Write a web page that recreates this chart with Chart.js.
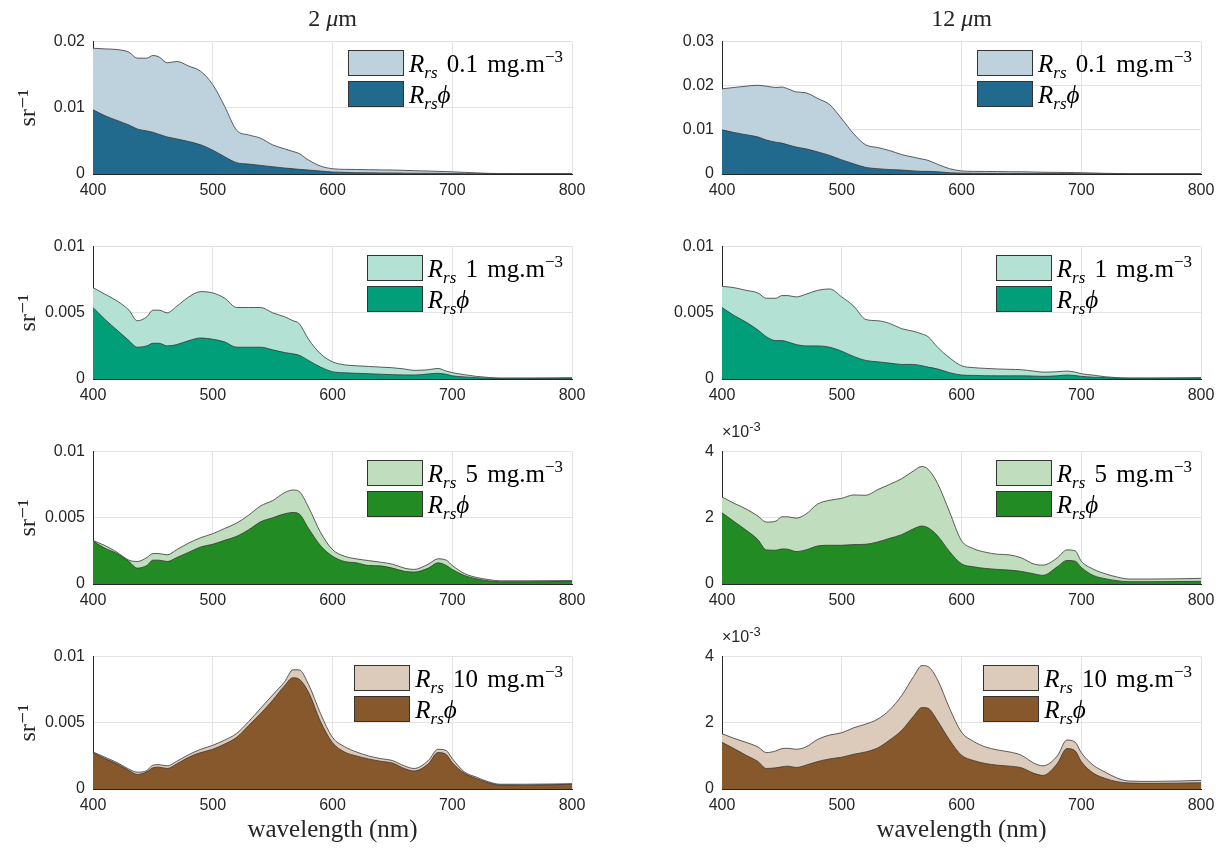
<!DOCTYPE html>
<html>
<head>
<meta charset="utf-8">
<script src="https://cdn.jsdelivr.net/npm/chart.js@4.4.1/dist/chart.umd.min.js"></script>
<style>
  body { margin: 0; background: #fff; }
  #fig { position: relative; width: 1227px; height: 848px; overflow: hidden; background: #fff; }
  #fig canvas { position: absolute; }
  .title { position: absolute; font-family: 'Liberation Serif', 'DejaVu Serif', serif; font-size: 24px; line-height: 28px; color: #262626; transform: translateX(-50%); white-space: nowrap; }
  .legend { position: absolute; font-family: 'Liberation Serif', 'DejaVu Serif', serif; font-size: 25px; color: #000; white-space: nowrap; }
  .legend .row { display: flex; align-items: center; height: 25px; margin-bottom: 6px; }
  .legend .sw { width: 54px; height: 24px; border: 1px solid #333; margin-right: 5px; flex: none; }
  .legend .txt { line-height: 25px; word-spacing: 3px; }
  .legend sub { font-size: 17px; vertical-align: -6px; line-height: 0; }
  .legend sup { font-size: 17px; vertical-align: 10px; line-height: 0; }
  .mult { position: absolute; font-family: 'Liberation Sans', Arial, sans-serif; font-size: 16px; line-height: 16px; color: #262626; }
  .mult sup { font-size: 13px; vertical-align: 6px; line-height: 0; }
</style>
</head>
<body>
<div id="fig"></div>
<script>
// wavelength grid (nm)
const wavelength = [400, 410, 420, 430, 437, 445, 450, 455, 462, 470, 480, 490, 500, 510, 520, 530, 540, 550, 560, 567,
  572, 580, 590, 600, 610, 620, 630, 640, 650, 660, 668, 680, 688, 695, 700, 710, 720, 730, 740, 760, 800];

// 2 um particles (sr^-1)
const rrs2um_01 = [0.0190, 0.0189, 0.0188, 0.0184, 0.0175, 0.0175, 0.0179, 0.0177, 0.0168, 0.0170, 0.0163, 0.0155, 0.0135, 0.0102, 0.0066, 0.0059, 0.0054, 0.0044, 0.0038, 0.0034,
  0.0031, 0.0021, 0.0012, 0.0008, 0.0007, 0.00068, 0.00065, 0.00062, 0.0006, 0.00055, 0.0005, 0.00045, 0.0004, 0.00036, 0.00033, 0.00025, 0.00018, 0.0001, 0.00006, 0.00004, 0.00004];
const rrsPhi2um_01 = [0.0097, 0.0088, 0.0081, 0.0074, 0.0068, 0.0065, 0.0063, 0.0060, 0.0056, 0.0053, 0.0049, 0.0044, 0.0036, 0.0026, 0.0017, 0.0015, 0.0013, 0.0011, 0.0009, 0.0008,
  0.0007, 0.0006, 0.00045, 0.0003, 0.00025, 0.0002, 0.00018, 0.00016, 0.00015, 0.00013, 0.00011, 0.0001, 0.0001, 0.00008, 0.00006, 0.00005, 0.00004, 0.00003, 0.00003, 0.00003, 0.00003];
const rrs2um_1 = [0.0069, 0.0064, 0.0059, 0.0052, 0.0044, 0.0047, 0.0052, 0.0052, 0.0050, 0.0055, 0.0062, 0.0066, 0.0065, 0.0061, 0.0054, 0.0054, 0.0054, 0.0050, 0.0047, 0.0044,
  0.0042, 0.0030, 0.0019, 0.0013, 0.00107, 0.0010, 0.00095, 0.0009, 0.00085, 0.00076, 0.00065, 0.0007, 0.0008, 0.0006, 0.00048, 0.00033, 0.0002, 0.00012, 0.00007, 0.00007, 0.0001];
const rrsPhi2um_1 = [0.0054, 0.0045, 0.0037, 0.0029, 0.0024, 0.0025, 0.0027, 0.0027, 0.0025, 0.0026, 0.0029, 0.0031, 0.0030, 0.0028, 0.0024, 0.0024, 0.0024, 0.0022, 0.0020, 0.0019,
  0.0018, 0.0014, 0.0009, 0.00055, 0.00047, 0.00043, 0.0004, 0.00036, 0.00033, 0.00031, 0.0003, 0.00038, 0.00043, 0.00035, 0.00024, 0.00016, 0.0001, 0.00006, 0.00005, 0.00005, 0.00005];
const rrs2um_5 = [0.00329, 0.0029, 0.0024, 0.0018, 0.0017, 0.0020, 0.0023, 0.0023, 0.0022, 0.0026, 0.0031, 0.0035, 0.0038, 0.0042, 0.0046, 0.0052, 0.0059, 0.0063, 0.0069, 0.0071,
  0.0070, 0.0058, 0.0039, 0.0026, 0.0021, 0.0019, 0.00177, 0.00165, 0.0015, 0.0012, 0.0011, 0.0015, 0.0019, 0.0018, 0.0014, 0.0008, 0.0005, 0.00034, 0.00024, 0.00024, 0.00026];
const rrsPhi2um_5 = [0.00324, 0.0027, 0.0023, 0.0017, 0.0012, 0.0014, 0.0018, 0.0018, 0.0017, 0.0020, 0.0024, 0.0028, 0.0030, 0.0033, 0.0036, 0.0041, 0.0047, 0.0050, 0.0053, 0.0054,
  0.0053, 0.0042, 0.0029, 0.0021, 0.0017, 0.0016, 0.0014, 0.00137, 0.0012, 0.00096, 0.0009, 0.0012, 0.0016, 0.0014, 0.0011, 0.00065, 0.0004, 0.00024, 0.00017, 0.00017, 0.0002];
const rrs2um_10 = [0.0028, 0.0024, 0.0020, 0.0015, 0.00127, 0.0014, 0.0018, 0.00184, 0.00175, 0.0021, 0.0026, 0.0030, 0.0033, 0.0037, 0.0042, 0.0051, 0.0061, 0.0071, 0.0081, 0.0090,
  0.0090, 0.0079, 0.0057, 0.0039, 0.0032, 0.0028, 0.0025, 0.0023, 0.00215, 0.00175, 0.00155, 0.00215, 0.0030, 0.0029, 0.0023, 0.0013, 0.0009, 0.00055, 0.00036, 0.00036, 0.0004];
const rrsPhi2um_10 = [0.00275, 0.0023, 0.0019, 0.0014, 0.0011, 0.0013, 0.0016, 0.00165, 0.00155, 0.0019, 0.0024, 0.00275, 0.0030, 0.0034, 0.0039, 0.0048, 0.0057, 0.0067, 0.0078, 0.0084,
  0.0083, 0.0073, 0.0051, 0.0035, 0.0028, 0.0025, 0.00227, 0.0021, 0.00196, 0.00155, 0.00136, 0.0019, 0.00275, 0.0026, 0.0020, 0.0012, 0.0008, 0.00048, 0.0003, 0.00029, 0.00036];

// 12 um particles (sr^-1, the 5 and 10 mg cases in units of 1e-3 sr^-1)
const rrs12um_01 = [0.0193, 0.0196, 0.0199, 0.0201, 0.0199, 0.0196, 0.0197, 0.0193, 0.0186, 0.0184, 0.0171, 0.0157, 0.0125, 0.0091, 0.0066, 0.0060, 0.0053, 0.0044, 0.0038, 0.0034,
  0.0031, 0.0022, 0.0012, 0.0007, 0.0006, 0.00058, 0.00055, 0.00052, 0.0005, 0.00045, 0.0004, 0.00037, 0.00035, 0.00032, 0.0003, 0.00022, 0.00015, 0.0001, 0.00006, 0.00005, 0.00005];
const rrsPhi12um_01 = [0.0100, 0.0094, 0.0089, 0.0084, 0.0077, 0.0072, 0.0070, 0.0066, 0.0061, 0.0057, 0.0050, 0.0042, 0.0032, 0.0023, 0.0015, 0.0012, 0.0010, 0.0009, 0.0007, 0.0006,
  0.0006, 0.0005, 0.0003, 0.0002, 0.00017, 0.00015, 0.00013, 0.00012, 0.00011, 0.0001, 0.0001, 0.00009, 0.00009, 0.00008, 0.00006, 0.00005, 0.00004, 0.00003, 0.00003, 0.00003, 0.00003];
const rrs12um_1 = [0.0070, 0.0069, 0.0067, 0.0065, 0.0061, 0.0061, 0.0063, 0.0063, 0.0062, 0.0064, 0.0067, 0.0068, 0.0062, 0.0055, 0.0045, 0.0044, 0.0042, 0.0038, 0.0036, 0.0034,
  0.0032, 0.0024, 0.0016, 0.0010, 0.00086, 0.0008, 0.00076, 0.00073, 0.0007, 0.0006, 0.00052, 0.00055, 0.0006, 0.00052, 0.0004, 0.00029, 0.00017, 0.0001, 0.00007, 0.00007, 0.0001];
const rrsPhi12um_1 = [0.0054, 0.0048, 0.0043, 0.0037, 0.0032, 0.0029, 0.0029, 0.0028, 0.0026, 0.0025, 0.0025, 0.0024, 0.0021, 0.0017, 0.0014, 0.0013, 0.0012, 0.0011, 0.0011, 0.0010,
  0.0009, 0.00076, 0.00048, 0.0003, 0.00027, 0.00025, 0.00024, 0.00024, 0.00024, 0.00022, 0.0002, 0.00024, 0.0003, 0.00026, 0.0002, 0.00014, 0.0001, 0.00007, 0.00006, 0.00006, 0.00007];
const rrs12um_5 = [2.63, 2.44, 2.27, 2.05, 1.87, 1.90, 2.03, 2.03, 1.99, 2.11, 2.42, 2.53, 2.59, 2.69, 2.68, 2.85, 3.01, 3.18, 3.42, 3.55,
  3.47, 3.04, 2.18, 1.31, 1.07, 0.96, 0.90, 0.88, 0.79, 0.61, 0.57, 0.79, 1.03, 1.00, 0.69, 0.45, 0.31, 0.21, 0.15, 0.15, 0.17];
const rrsPhi12um_5 = [2.15, 1.89, 1.63, 1.34, 1.03, 1.02, 1.06, 1.05, 0.98, 1.03, 1.15, 1.17, 1.17, 1.19, 1.20, 1.27, 1.38, 1.49, 1.67, 1.75,
  1.70, 1.46, 0.98, 0.61, 0.52, 0.47, 0.44, 0.42, 0.38, 0.31, 0.26, 0.52, 0.71, 0.69, 0.50, 0.26, 0.16, 0.10, 0.07, 0.07, 0.08];
const rrs12um_10 = [1.67, 1.53, 1.41, 1.27, 1.10, 1.15, 1.22, 1.23, 1.20, 1.27, 1.50, 1.63, 1.70, 1.85, 1.96, 2.11, 2.39, 2.82, 3.40, 3.73,
  3.70, 3.30, 2.44, 1.72, 1.44, 1.27, 1.18, 1.12, 1.02, 0.79, 0.70, 1.00, 1.48, 1.41, 1.10, 0.72, 0.51, 0.33, 0.24, 0.23, 0.26];
const rrsPhi12um_10 = [1.41, 1.22, 1.02, 0.83, 0.62, 0.64, 0.67, 0.69, 0.65, 0.72, 0.83, 0.91, 0.96, 1.05, 1.12, 1.24, 1.48, 1.77, 2.20, 2.46,
  2.44, 2.06, 1.48, 1.02, 0.86, 0.77, 0.72, 0.69, 0.64, 0.48, 0.41, 0.77, 1.22, 1.15, 0.83, 0.48, 0.32, 0.22, 0.18, 0.17, 0.19];

const columnTitles = ['2', '12'];
const xTicks = { min: 400, max: 800, step: 100 };

// colours per chlorophyll concentration row
const rowColors = [
  { light: '#bed2de', dark: '#226a8d' },
  { light: '#b3e2d5', dark: '#009f79' },
  { light: '#c0ddbe', dark: '#238b23' },
  { light: '#dccbbb', dark: '#86582b' }
];

const panels = [
  { col: 0, row: 0, total: rrs2um_01, phi: rrsPhi2um_01, conc: '0.1', yMax: 0.02, yStep: 0.01 },
  { col: 1, row: 0, total: rrs12um_01, phi: rrsPhi12um_01, conc: '0.1', yMax: 0.03, yStep: 0.01 },
  { col: 0, row: 1, total: rrs2um_1, phi: rrsPhi2um_1, conc: '1', yMax: 0.01, yStep: 0.005 },
  { col: 1, row: 1, total: rrs12um_1, phi: rrsPhi12um_1, conc: '1', yMax: 0.01, yStep: 0.005 },
  { col: 0, row: 2, total: rrs2um_5, phi: rrsPhi2um_5, conc: '5', yMax: 0.01, yStep: 0.005 },
  { col: 1, row: 2, total: rrs12um_5, phi: rrsPhi12um_5, conc: '5', yMax: 4, yStep: 2, exp: -3 },
  { col: 0, row: 3, total: rrs2um_10, phi: rrsPhi2um_10, conc: '10', yMax: 0.01, yStep: 0.005 },
  { col: 1, row: 3, total: rrs12um_10, phi: rrsPhi12um_10, conc: '10', yMax: 4, yStep: 2, exp: -3 }
];

// figure layout (px)
const colLeft = [0, 620], colWidth = [600, 607], axisWidth = [93, 102], plotRight = [572, 1201];
const plotTop = [36, 241, 446, 651], plotHeight = 138, padTop = 12;

const sans = "'Liberation Sans', Arial, sans-serif";
const serif = "'Liberation Serif', 'DejaVu Serif', serif";
const axisColor = '#262626', gridColor = '#e3e3e3';

Chart.defaults.font.family = sans;
Chart.defaults.font.size = 16;
Chart.defaults.color = axisColor;

const fig = document.getElementById('fig');

function addDiv(cls, html, style) {
  const d = document.createElement('div');
  d.className = cls;
  d.innerHTML = html;
  Object.assign(d.style, style);
  fig.appendChild(d);
  return d;
}

function fmtTick(v) {
  return String(+v.toFixed(4));
}

panels.forEach(function(p) {
  const bottomRow = p.row === 3;
  const xAxisH = bottomRow ? 56 : 28;
  const c = rowColors[p.row];

  const canvas = document.createElement('canvas');
  canvas.width = colWidth[p.col];
  canvas.height = padTop + plotHeight + xAxisH;
  canvas.style.left = colLeft[p.col] + 'px';
  canvas.style.top = (plotTop[p.row] - padTop) + 'px';
  fig.appendChild(canvas);

  const points = arr => wavelength.map((w, i) => ({ x: w, y: arr[i] }));
  const area = { fill: 'origin', borderColor: '#363636', borderWidth: 0.8, pointRadius: 0, cubicInterpolationMode: 'monotone' };

  const chart = new Chart(canvas, {
    type: 'line',
    data: {
      datasets: [
        Object.assign({ label: 'Rrs ' + p.conc + ' mg.m-3', data: points(p.total), backgroundColor: c.light, order: 2 }, area),
        Object.assign({ label: 'Rrs phi', data: points(p.phi), backgroundColor: c.dark, order: 1 }, area)
      ]
    },
    options: {
      responsive: false,
      animation: false,
      layout: { padding: { top: padTop, left: 0, bottom: 0, right: colWidth[p.col] - (plotRight[p.col] - colLeft[p.col]) } },
      plugins: { legend: { display: false }, tooltip: { enabled: false } },
      scales: {
        x: {
          type: 'linear', min: xTicks.min, max: xTicks.max,
          ticks: { stepSize: xTicks.step, padding: 7 },
          grid: { color: gridColor, drawTicks: false },
          border: { color: axisColor },
          title: { display: bottomRow, text: 'wavelength (nm)', font: { family: serif, size: 25 }, color: axisColor, padding: { top: 0, bottom: 0 } },
          afterFit: s => { s.height = xAxisH; }
        },
        y: {
          min: 0, max: p.yMax,
          ticks: { stepSize: p.yStep, padding: 8, callback: fmtTick },
          grid: { color: gridColor, drawTicks: false },
          border: { color: axisColor },
          title: { display: p.col === 0, text: 'sr⁻¹', font: { family: serif, size: 24 }, color: axisColor, padding: { top: 14, bottom: 0 } },
          afterFit: s => { s.width = axisWidth[p.col]; }
        }
      }
    }
  });

  // legend box built from the datasets, top right inside the axes
  const a = chart.chartArea;
  const labels = [
    '<i>R</i><sub><i>rs</i></sub> ' + p.conc + ' mg.m<sup>−3</sup>',
    '<i>R</i><sub><i>rs</i></sub><i>ϕ</i>'
  ];
  const html = chart.data.datasets.map((ds, i) =>
    '<div class="row"><div class="sw" style="background:' + ds.backgroundColor + '"></div><span class="txt">' + labels[i] + '</span></div>'
  ).join('');
  addDiv('legend', html, {
    right: (1227 - (colLeft[p.col] + a.right - 9)) + 'px',
    top: (plotTop[p.row] - padTop + a.top + 9) + 'px'
  });

  if (p.exp) {
    addDiv('mult', '×10<sup>' + p.exp + '</sup>', { left: (colLeft[p.col] + a.left) + 'px', top: (plotTop[p.row] - 22) + 'px' });
  }
  if (p.row === 0) {
    addDiv('title', columnTitles[p.col] + ' <i>μ</i>m', { left: (colLeft[p.col] + (a.left + a.right) / 2) + 'px', top: '4px' });
  }
});
</script>
</body>
</html>
